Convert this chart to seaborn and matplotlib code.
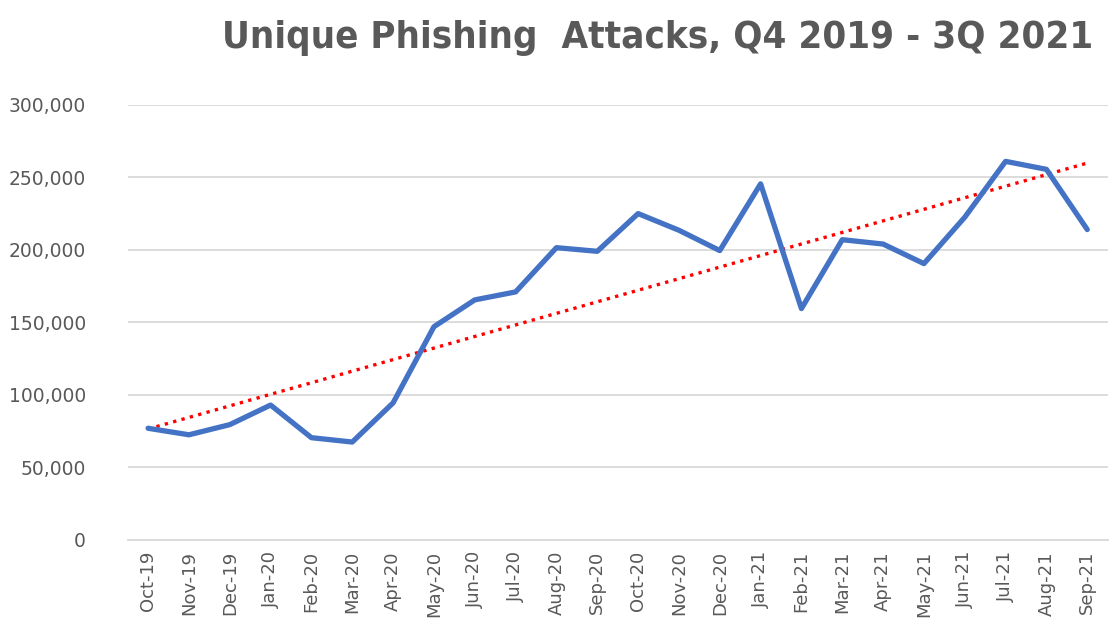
import numpy as np
import pandas as pd
import matplotlib.pyplot as plt
from matplotlib.ticker import FuncFormatter, FixedLocator
import seaborn as sns

months = ['Oct-19', 'Nov-19', 'Dec-19', 'Jan-20', 'Feb-20', 'Mar-20', 'Apr-20', 'May-20',
          'Jun-20', 'Jul-20', 'Aug-20', 'Sep-20', 'Oct-20', 'Nov-20', 'Dec-20', 'Jan-21',
          'Feb-21', 'Mar-21', 'Apr-21', 'May-21', 'Jun-21', 'Jul-21', 'Aug-21', 'Sep-21']
attacks = [77000, 72500, 79500, 93000, 70500, 67500, 94500, 147000,
           165500, 171000, 201500, 199000, 225000, 213500, 199500, 245500,
           159500, 207000, 204000, 190500, 222500, 261000, 255500, 214000]
yticks = [0, 50000, 100000, 150000, 200000, 250000, 300000]

df = pd.DataFrame({'idx': np.arange(len(months)), 'month': months, 'attacks': attacks})

# linear trendline like Excel
slope, intercept = np.polyfit(df['idx'], df['attacks'], 1)
df['trend'] = intercept + slope * df['idx']

sns.set_style('white')
grey = '#595959'

fig = plt.figure(figsize=(11.2, 6.39), dpi=100)
ax = fig.add_axes([0.114, 0.155, 0.875, 0.681])

ax.yaxis.grid(True, color='#d9d9d9', linewidth=1.3)
ax.set_axisbelow(True)

sns.lineplot(data=df, x='idx', y='trend', ax=ax, color='#ff0000', linewidth=2.4,
             linestyle=(0, (1, 1.6)))
sns.lineplot(data=df, x='idx', y='attacks', ax=ax, color='#4472c4', linewidth=3.8)

ax.set_xlim(-0.5, len(months) - 0.5)
ax.set_ylim(0, 300000)
ax.set_yticks(yticks)
ax.yaxis.set_major_formatter(FuncFormatter(lambda v, p: f'{int(v):,}'))
ax.set_xticks(df['idx'])
ax.set_xticklabels(months, rotation=90)
ax.xaxis.set_minor_locator(FixedLocator(np.arange(-0.5, len(months), 1.0)))
ax.tick_params(axis='x', which='major', length=0, pad=8, labelsize=13, labelcolor=grey)
ax.tick_params(axis='x', which='minor', length=7, width=1.2, color='#d9d9d9', direction='out')
ax.tick_params(axis='y', length=0, pad=30, labelsize=13.5, labelcolor=grey)
ax.set_xlabel('')
ax.set_ylabel('')

for s in ['top', 'right', 'left']:
    ax.spines[s].set_visible(False)
ax.spines['bottom'].set_color('#d9d9d9')
ax.spines['bottom'].set_linewidth(1.3)

fig.text(0.198, 0.94, 'Unique Phishing  Attacks, Q4 2019 - 3Q 2021', ha='left', va='center',
         fontsize=27.5, fontweight='bold', color=grey, family='DejaVu Sans',
         fontstretch='condensed')

plt.savefig('out.png', dpi=100)
